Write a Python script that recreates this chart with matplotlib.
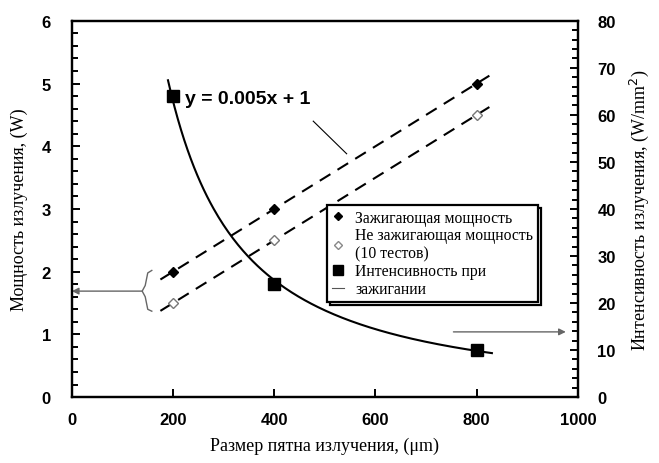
import numpy as np
import matplotlib
matplotlib.use("Agg")
import matplotlib.pyplot as plt
from matplotlib.lines import Line2D
from matplotlib.patches import Rectangle

spot = [200, 400, 800]
ign_power = [2.0, 3.0, 5.0]
noign_power = [1.5, 2.5, 4.5]
intensity = [64, 24, 10]
fit_label = "y = 0.005x + 1"
x_ticks = [0, 200, 400, 600, 800, 1000]
y_ticks = [0, 1, 2, 3, 4, 5, 6]
y2_ticks = [0, 10, 20, 30, 40, 50, 60, 70, 80]

fig = plt.figure(figsize=(6.59, 4.64), dpi=100)
ax = fig.add_axes([0.109, 0.142, 0.768, 0.811])
ax2 = ax.twinx()

# trend lines (linear fits)
xl = np.array([175, 825])
p1 = np.polyfit(spot, ign_power, 1)
p2 = np.polyfit(spot, noign_power, 1)
ax.plot(xl, np.polyval(p1, xl), ls=(0, (6, 4)), color='black', lw=1.5)
ax.plot(xl, np.polyval(p2, xl), ls=(0, (6, 4)), color='black', lw=1.5)
ax.plot(spot, ign_power, 'D', color='black', ms=5.5, ls='none')
ax.plot(spot, noign_power, 'D', mfc='white', mec='#777777', mew=1.0, ms=5.5, ls='none')

# power-law fit for intensity
b, a = np.polyfit(np.log(spot), np.log(intensity), 1)
xc = np.linspace(190, 830, 200)
ax2.plot(xc, np.exp(a) * xc ** b, color='black', lw=1.5)
ax2.plot(spot, intensity, 's', color='black', ms=8.5, ls='none')

ax.set_xlim(0, 1000)
ax.set_ylim(0, 6)
ax2.set_ylim(0, 80)
ax.set_xticks(x_ticks)
ax.set_yticks(y_ticks)
ax2.set_yticks(y2_ticks)
ax.set_yticks(np.arange(0, 6.01, 0.2), minor=True)
ax2.set_yticks(np.arange(0, 80.1, 2), minor=True)

tickfont = dict(family='Liberation Sans', weight='bold', size=12)
ax.set_xticklabels([str(t) for t in x_ticks], **tickfont)
ax.set_yticklabels([str(t) for t in y_ticks], **tickfont)
ax2.set_yticklabels([str(t) for t in y2_ticks], **tickfont)
ax.tick_params(axis='both', which='both', direction='in', width=1.4)
ax.tick_params(axis='both', which='major', length=6)
ax.tick_params(axis='y', which='minor', length=4)
ax.tick_params(axis='y', which='major', pad=15)
ax.tick_params(axis='x', which='major', pad=11)
ax2.tick_params(axis='y', which='both', direction='in', width=1.4)
ax2.tick_params(axis='y', which='major', length=6, pad=14)
ax2.tick_params(axis='y', which='minor', length=4)
for sp in list(ax.spines.values()) + list(ax2.spines.values()):
    sp.set_linewidth(1.6)

labfont = dict(family='Liberation Serif', size=13)
ax.set_xlabel("Размер пятна излучения, (μm)", labelpad=7, **labfont)
ax.set_ylabel("Мощность излучения, (W)", labelpad=10, **labfont)
ax2.set_ylabel("Интенсивность излучения, (W/mm$^2$)", labelpad=9, **labfont)

# annotation
ax.text(347, 4.76, fit_label, ha='center', va='center', family='Liberation Sans', weight='bold', size=14)
ax.plot([477, 543], [4.4, 3.88], color='black', lw=0.8)

# bracket + arrows
gray = '#666666'
ax.annotate('', xy=(0, 1.69), xytext=(139, 1.69),
            arrowprops=dict(arrowstyle='-|>', color=gray, lw=1.0, mutation_scale=10, shrinkA=0, shrinkB=0))
ax.plot([158, 150, 145, 139, 145, 150, 158], [2.02, 1.98, 1.78, 1.69, 1.60, 1.40, 1.37], color=gray, lw=1.0)
ax.annotate('', xy=(976, 1.04), xytext=(754, 1.04),
            arrowprops=dict(arrowstyle='-|>', color=gray, lw=1.0, mutation_scale=10, shrinkA=0, shrinkB=0))

# legend
handles = [
    Line2D([], [], marker='D', color='black', ls='none', ms=4.5),
    Line2D([], [], marker='D', mfc='white', mec='#888888', ls='none', ms=4.5),
    Line2D([], [], marker='s', color='black', ls='none', ms=6.5),
    Line2D([], [], color='#555555', lw=0.8),
]
labels = ["Зажигающая мощность", "Не зажигающая мощность\n(10 тестов)",
          "Интенсивность при", "зажигании"]
leg = ax2.legend(handles, labels, loc='upper left', bbox_to_anchor=(0.504, 0.51),
                 prop=dict(family='Liberation Serif', size=11.3), frameon=True,
                 fancybox=False, edgecolor='black', framealpha=1, handlelength=0.8,
                 handletextpad=0.7, labelspacing=0.1, borderpad=0.3, borderaxespad=0)
leg.get_frame().set_linewidth(1.6)
leg.set_zorder(5)
fig.canvas.draw()
bb = leg.get_window_extent().transformed(ax2.transAxes.inverted())
ax2.add_patch(Rectangle((bb.x0 + 0.006, bb.y0 - 0.008), bb.width, bb.height,
                        transform=ax2.transAxes, fill=False, ec='black', lw=1.6, zorder=4))

fig.savefig("out.png", dpi=100)
